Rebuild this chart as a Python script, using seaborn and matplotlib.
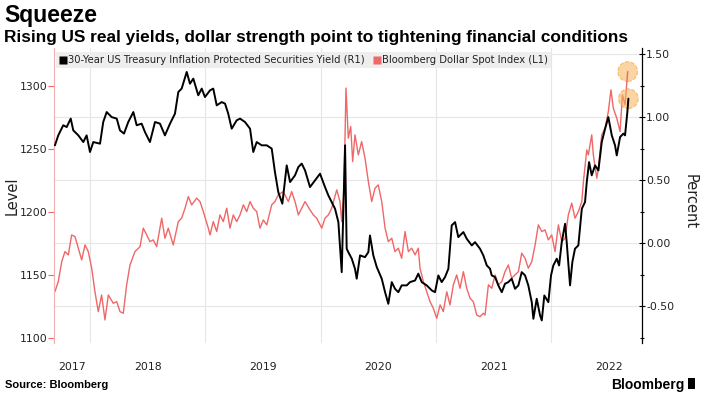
import numpy as np
import pandas as pd
import matplotlib
matplotlib.use("Agg")
import matplotlib.pyplot as plt
import seaborn as sns
from matplotlib.lines import Line2D
from matplotlib.patches import Rectangle

# ---------------- data (decimal years) ----------------
tips_t = [2017.696, 2017.725, 2017.768, 2017.798, 2017.833, 2017.855, 2017.899, 2017.942, 2017.971, 2018.000,
          2018.029, 2018.087, 2018.115, 2018.145, 2018.188, 2018.232, 2018.260, 2018.295, 2018.332, 2018.376,
          2018.405, 2018.448, 2018.477, 2018.520, 2018.564, 2018.607, 2018.650, 2018.694, 2018.737, 2018.766,
          2018.795, 2018.839, 2018.867, 2018.896, 2018.939, 2018.969, 2018.997, 2019.041, 2019.069, 2019.099,
          2019.142, 2019.171, 2019.199, 2019.229, 2019.272, 2019.301, 2019.344, 2019.388, 2019.416, 2019.446,
          2019.489, 2019.533, 2019.576, 2019.604, 2019.633, 2019.668, 2019.706, 2019.735, 2019.778, 2019.807,
          2019.836, 2019.865, 2019.908, 2019.951, 2019.995, 2020.038, 2020.067, 2020.096, 2020.125, 2020.154,
          2020.183, 2020.212, 2020.226, 2020.240, 2020.270, 2020.298, 2020.313, 2020.342, 2020.385, 2020.414,
          2020.428, 2020.457, 2020.487, 2020.530, 2020.559, 2020.587, 2020.617, 2020.645, 2020.674, 2020.703,
          2020.747, 2020.775, 2020.819, 2020.847, 2020.877, 2020.920, 2020.964, 2020.992, 2021.021, 2021.050,
          2021.079, 2021.108, 2021.137, 2021.166, 2021.194, 2021.238, 2021.267, 2021.311, 2021.339, 2021.382,
          2021.411, 2021.441, 2021.469, 2021.484, 2021.513, 2021.541, 2021.571, 2021.599, 2021.628, 2021.657,
          2021.686, 2021.715, 2021.744, 2021.773, 2021.801, 2021.831, 2021.845, 2021.874, 2021.903, 2021.918,
          2021.940, 2021.975, 2021.998, 2022.018, 2022.048, 2022.068, 2022.091, 2022.120, 2022.134, 2022.163,
          2022.183, 2022.206, 2022.235, 2022.265, 2022.293, 2022.308, 2022.328, 2022.351, 2022.380, 2022.409,
          2022.438, 2022.467, 2022.495, 2022.525, 2022.553, 2022.568, 2022.597, 2022.626, 2022.640, 2022.660,
          2022.669]
tips_yield = [0.778, 0.857, 0.937, 0.923, 0.990, 0.897, 0.857, 0.804, 0.857, 0.725,
              0.804, 0.791, 0.963, 1.042, 1.002, 0.990, 0.897, 0.871, 0.963, 1.042,
              0.937, 0.950, 0.883, 0.804, 0.963, 0.950, 0.857, 0.950, 1.029, 1.201,
              1.228, 1.360, 1.267, 1.307, 1.175, 1.228, 1.161, 1.214, 1.228, 1.095,
              1.121, 1.109, 1.029, 0.910, 0.976, 0.990, 0.963, 0.910, 0.725, 0.804,
              0.778, 0.778, 0.752, 0.566, 0.407, 0.315, 0.619, 0.487, 0.540, 0.606,
              0.633, 0.579, 0.447, 0.500, 0.553, 0.447, 0.381, 0.328, 0.275, 0.169,
              -0.228, 0.778, -0.042, -0.069, -0.121, -0.201, -0.280, -0.095, -0.109, -0.069,
              0.063, -0.095, -0.188, -0.280, -0.387, -0.479, -0.307, -0.360, -0.387, -0.333,
              -0.333, -0.307, -0.294, -0.240, -0.307, -0.333, -0.373, -0.387, -0.254, -0.307,
              -0.267, -0.201, 0.143, 0.169, 0.050, 0.090, 0.037, -0.016, 0.010, -0.042,
              -0.095, -0.175, -0.201, -0.254, -0.267, -0.333, -0.387, -0.320, -0.307, -0.280,
              -0.360, -0.333, -0.228, -0.254, -0.333, -0.466, -0.598, -0.439, -0.571, -0.611,
              -0.413, -0.466, -0.254, -0.175, -0.121, -0.175, 0.010, 0.156, 0.010, -0.333,
              -0.148, -0.042, -0.016, 0.275, 0.328, 0.487, 0.645, 0.540, 0.619, 0.579,
              0.804, 0.910, 1.002, 0.857, 0.778, 0.698, 0.844, 0.871, 0.857, 1.042,
              1.148]

dxy_t = [2017.696, 2017.725, 2017.755, 2017.783, 2017.812, 2017.841, 2017.870, 2017.899, 2017.928, 2017.957,
         2017.985, 2018.015, 2018.043, 2018.072, 2018.101, 2018.130, 2018.159, 2018.202, 2018.232, 2018.260,
         2018.289, 2018.318, 2018.347, 2018.390, 2018.434, 2018.462, 2018.492, 2018.520, 2018.549, 2018.578,
         2018.622, 2018.650, 2018.679, 2018.722, 2018.766, 2018.795, 2018.824, 2018.853, 2018.882, 2018.925,
         2018.954, 2018.983, 2019.026, 2019.041, 2019.069, 2019.099, 2019.127, 2019.156, 2019.186, 2019.214,
         2019.243, 2019.272, 2019.301, 2019.330, 2019.359, 2019.388, 2019.416, 2019.446, 2019.474, 2019.503,
         2019.533, 2019.576, 2019.604, 2019.633, 2019.676, 2019.720, 2019.749, 2019.778, 2019.807, 2019.836,
         2019.865, 2019.908, 2019.937, 2019.966, 2020.010, 2020.038, 2020.067, 2020.096, 2020.140, 2020.168,
         2020.183, 2020.203, 2020.220, 2020.240, 2020.261, 2020.278, 2020.298, 2020.327, 2020.356, 2020.385,
         2020.414, 2020.443, 2020.472, 2020.500, 2020.530, 2020.559, 2020.587, 2020.617, 2020.645, 2020.674,
         2020.703, 2020.732, 2020.761, 2020.790, 2020.819, 2020.847, 2020.862, 2020.891, 2020.920, 2020.949,
         2020.977, 2021.007, 2021.036, 2021.064, 2021.094, 2021.122, 2021.151, 2021.180, 2021.209, 2021.238,
         2021.267, 2021.296, 2021.324, 2021.354, 2021.382, 2021.411, 2021.426, 2021.455, 2021.484, 2021.513,
         2021.541, 2021.571, 2021.599, 2021.628, 2021.657, 2021.686, 2021.715, 2021.744, 2021.773, 2021.801,
         2021.831, 2021.860, 2021.888, 2021.918, 2021.946, 2021.975, 2022.004, 2022.033, 2022.062, 2022.091,
         2022.120, 2022.148, 2022.178, 2022.206, 2022.235, 2022.265, 2022.279, 2022.308, 2022.322, 2022.351,
         2022.365, 2022.395, 2022.409, 2022.438, 2022.467, 2022.495, 2022.518, 2022.538, 2022.568, 2022.597,
         2022.617, 2022.640, 2022.663]
dxy_level = [1136.7, 1144.7, 1160.5, 1168.5, 1165.9, 1181.7, 1180.4, 1171.2, 1161.9, 1173.8,
             1168.5, 1155.3, 1136.7, 1120.9, 1134.1, 1114.3, 1134.1, 1127.5, 1128.8, 1120.9,
             1119.6, 1142.1, 1157.9, 1168.5, 1172.4, 1187.1, 1181.7, 1176.4, 1177.8, 1172.4,
             1195.0, 1179.1, 1187.1, 1173.8, 1192.3, 1195.0, 1202.9, 1212.1, 1205.5, 1210.9,
             1208.2, 1200.2, 1187.1, 1181.7, 1192.3, 1184.4, 1197.6, 1192.3, 1202.9, 1187.1,
             1197.6, 1192.3, 1197.6, 1205.6, 1200.2, 1208.2, 1202.9, 1200.2, 1187.1, 1193.6,
             1189.7, 1205.6, 1208.2, 1213.5, 1216.1, 1208.2, 1216.1, 1208.2, 1197.6, 1202.9,
             1208.2, 1201.6, 1197.6, 1195.0, 1187.1, 1195.0, 1197.6, 1202.9, 1217.5, 1208.2,
             1192.3, 1218.8, 1298.2, 1258.5, 1267.7, 1239.9, 1261.1, 1245.2, 1255.8, 1242.6,
             1224.0, 1208.2, 1218.8, 1221.4, 1208.2, 1187.1, 1176.4, 1179.1, 1168.5, 1171.2,
             1163.2, 1184.4, 1168.5, 1171.2, 1165.9, 1171.2, 1155.3, 1144.7, 1136.7, 1128.8,
             1123.6, 1115.6, 1126.2, 1120.9, 1136.7, 1126.2, 1142.1, 1150.0, 1139.4, 1152.6,
             1139.4, 1131.5, 1128.8, 1118.2, 1116.9, 1119.6, 1118.2, 1142.1, 1139.4, 1150.0,
             1142.1, 1144.7, 1152.6, 1157.9, 1147.4, 1150.0, 1152.6, 1167.2, 1163.2, 1155.3,
             1160.5, 1173.8, 1189.7, 1184.4, 1185.7, 1177.8, 1181.7, 1168.5, 1189.7, 1176.4,
             1179.1, 1197.6, 1206.9, 1195.0, 1200.2, 1208.2, 1224.0, 1249.2, 1245.2, 1261.1,
             1245.2, 1226.7, 1234.7, 1261.1, 1266.4, 1279.6, 1296.8, 1282.3, 1274.4, 1263.7,
             1292.9, 1284.9, 1311.3]

year_labels = ["2017", "2018", "2019", "2020", "2021", "2022"]
left_ticks = [1100, 1150, 1200, 1250, 1300]
right_ticks = [-0.5, 0.0, 0.5, 1.0, 1.5]

series_names = ["30-Year US Treasury Inflation Protected Securities Yield (R1)",
                "Bloomberg Dollar Spot Index (L1)"]

# ---------------- style ----------------
sns.set_theme(style="white")
plt.rcParams["font.family"] = ["DejaVu Sans"]

RED = "#ef6767"
GRID = "#e6e6e6"

tips_df = pd.DataFrame({"t": tips_t, "v": tips_yield})
dxy_df = pd.DataFrame({"t": dxy_t, "v": dxy_level})

fig = plt.figure(figsize=(7.02, 3.95), dpi=100)
ax = fig.add_axes([54 / 702, 1 - 343 / 395, (642 - 54) / 702, (343 - 48) / 395])
ax2 = ax.twinx()

sns.lineplot(data=dxy_df, x="t", y="v", ax=ax, color=RED, lw=1.0,
             estimator=None, sort=False)
sns.lineplot(data=tips_df, x="t", y="v", ax=ax2, color="black", lw=1.4,
             estimator=None, sort=False)

# highlight circles on last values
ax.scatter([dxy_t[-1]], [dxy_level[-1]], s=200, facecolor="#f7b458", alpha=0.55,
           edgecolor="#f09a20", linestyle="--", linewidth=0.8, zorder=1)
ax2.scatter([tips_t[-1]], [tips_yield[-1]], s=200, facecolor="#f7b458", alpha=0.55,
            edgecolor="#f09a20", linestyle="--", linewidth=0.8, zorder=1)

# limits
x0, x1 = 2017.688, 2022.787
ax.set_xlim(x0, x1)
ax.set_ylim(1096, 1330)
ax2.set_ylim(-0.79, 1.55)

# x ticks: gridlines at year starts, labels mid-year
starts = [2018, 2019, 2020, 2021, 2022]
ax.set_xticks(starts)
ax.set_xticklabels([""] * len(starts))
mids = [(x0 + 2018) / 2] + [y + 0.5 for y in starts]
ax.set_xticks(mids, minor=True)
ax.set_xticklabels(year_labels, minor=True)
ax.tick_params(axis="x", which="both", length=0, labelsize=7.8, colors="#222222")
ax.tick_params(axis="x", which="minor", pad=14)

# y ticks
ax.set_yticks(left_ticks)
ax.set_yticklabels([str(v) for v in left_ticks])
ax.tick_params(axis="y", which="major", length=4, width=0.8, color=RED,
               labelsize=7.8, labelcolor="#222222", pad=1, left=True)
grid_levels = [1125, 1175, 1225, 1275, 1325]
ax.set_yticks(grid_levels, minor=True)
ax.tick_params(axis="y", which="minor", length=0)

ax2.set_yticks(right_ticks)
ax2.set_yticklabels([f"{v:.2f}" for v in right_ticks])
ax2.set_yticks([-0.75, -0.25, 0.25, 0.75, 1.25], minor=True)
ax2.tick_params(axis="y", which="major", length=4, width=0.8, color="black",
                labelsize=7.8, labelcolor="#222222", pad=1, direction="inout")
ax2.tick_params(axis="y", which="minor", length=3, width=0.8, color="black",
                direction="inout")

ax.grid(False)
ax2.grid(False)
ax.grid(True, which="minor", axis="y", color=GRID, lw=0.8)
ax.grid(True, which="major", axis="x", color=GRID, lw=0.8)
ax.set_axisbelow(True)

for s in ["top", "bottom", "right"]:
    ax.spines[s].set_visible(False)
ax.spines["left"].set_color("#f4b0b0")
ax.spines["left"].set_linewidth(0.8)
for s in ["top", "bottom", "left"]:
    ax2.spines[s].set_visible(False)
ax2.spines["right"].set_color("black")
ax2.spines["right"].set_linewidth(0.9)

ax.set_xlabel("")
ax.set_ylabel("")
ax2.set_xlabel("")
ax2.set_ylabel("")

fig.text(12 / 702, 1 - 196 / 395, "Level", rotation=90, ha="center", va="center",
         fontsize=10.5, color="#222222")
fig.text(690 / 702, 1 - 202 / 395, "Percent", rotation=270, ha="center", va="center",
         fontsize=10.5, color="#222222")

# legend
handles = [Line2D([], [], marker="s", color="none", markerfacecolor="black",
                  markeredgecolor="none", markersize=6, linestyle="None"),
           Line2D([], [], marker="s", color="none", markerfacecolor=RED,
                  markeredgecolor="none", markersize=6, linestyle="None")]
leg = ax.legend(handles, series_names, loc="upper left",
                bbox_to_anchor=(56 / 702, 1 - 52 / 395), bbox_transform=fig.transFigure,
                ncol=2, fontsize=7.2, frameon=True, fancybox=False,
                borderpad=0.3, handletextpad=0.1, columnspacing=0.8, handlelength=0.8,
                borderaxespad=0)
leg.get_frame().set_facecolor("#eeeeee")
leg.get_frame().set_edgecolor("none")
leg.get_frame().set_alpha(1)
leg.set_zorder(20)
for txt in leg.get_texts():
    txt.set_color("#222222")

# titles
fig.text(4 / 702, 1 - 22 / 395, "Squeeze", fontsize=16.5, fontweight="bold",
         family=["Liberation Sans", "DejaVu Sans"], va="baseline", ha="left", color="black")
fig.text(4 / 702, 1 - 42 / 395,
         "Rising US real yields, dollar strength point to tightening financial conditions",
         fontsize=12.4, fontweight="bold", family=["Liberation Sans", "DejaVu Sans"],
         va="baseline", ha="left", color="black")

# footer
fig.text(5 / 702, 1 - 388 / 395, "Source: Bloomberg", fontsize=8, fontweight="bold",
         family=["Liberation Sans", "DejaVu Sans"], va="baseline", ha="left", color="black")
fig.text(684 / 702, 1 - 389 / 395, "Bloomberg", fontsize=10, fontweight="bold",
         family=["Liberation Sans", "DejaVu Sans"], va="baseline", ha="right", color="black")
fig.patches.append(Rectangle((688 / 702, 1 - 389 / 395), 7 / 702, 11 / 395,
                             transform=fig.transFigure, facecolor="black",
                             edgecolor="none", figure=fig))

fig.savefig("out.png", dpi=100)
